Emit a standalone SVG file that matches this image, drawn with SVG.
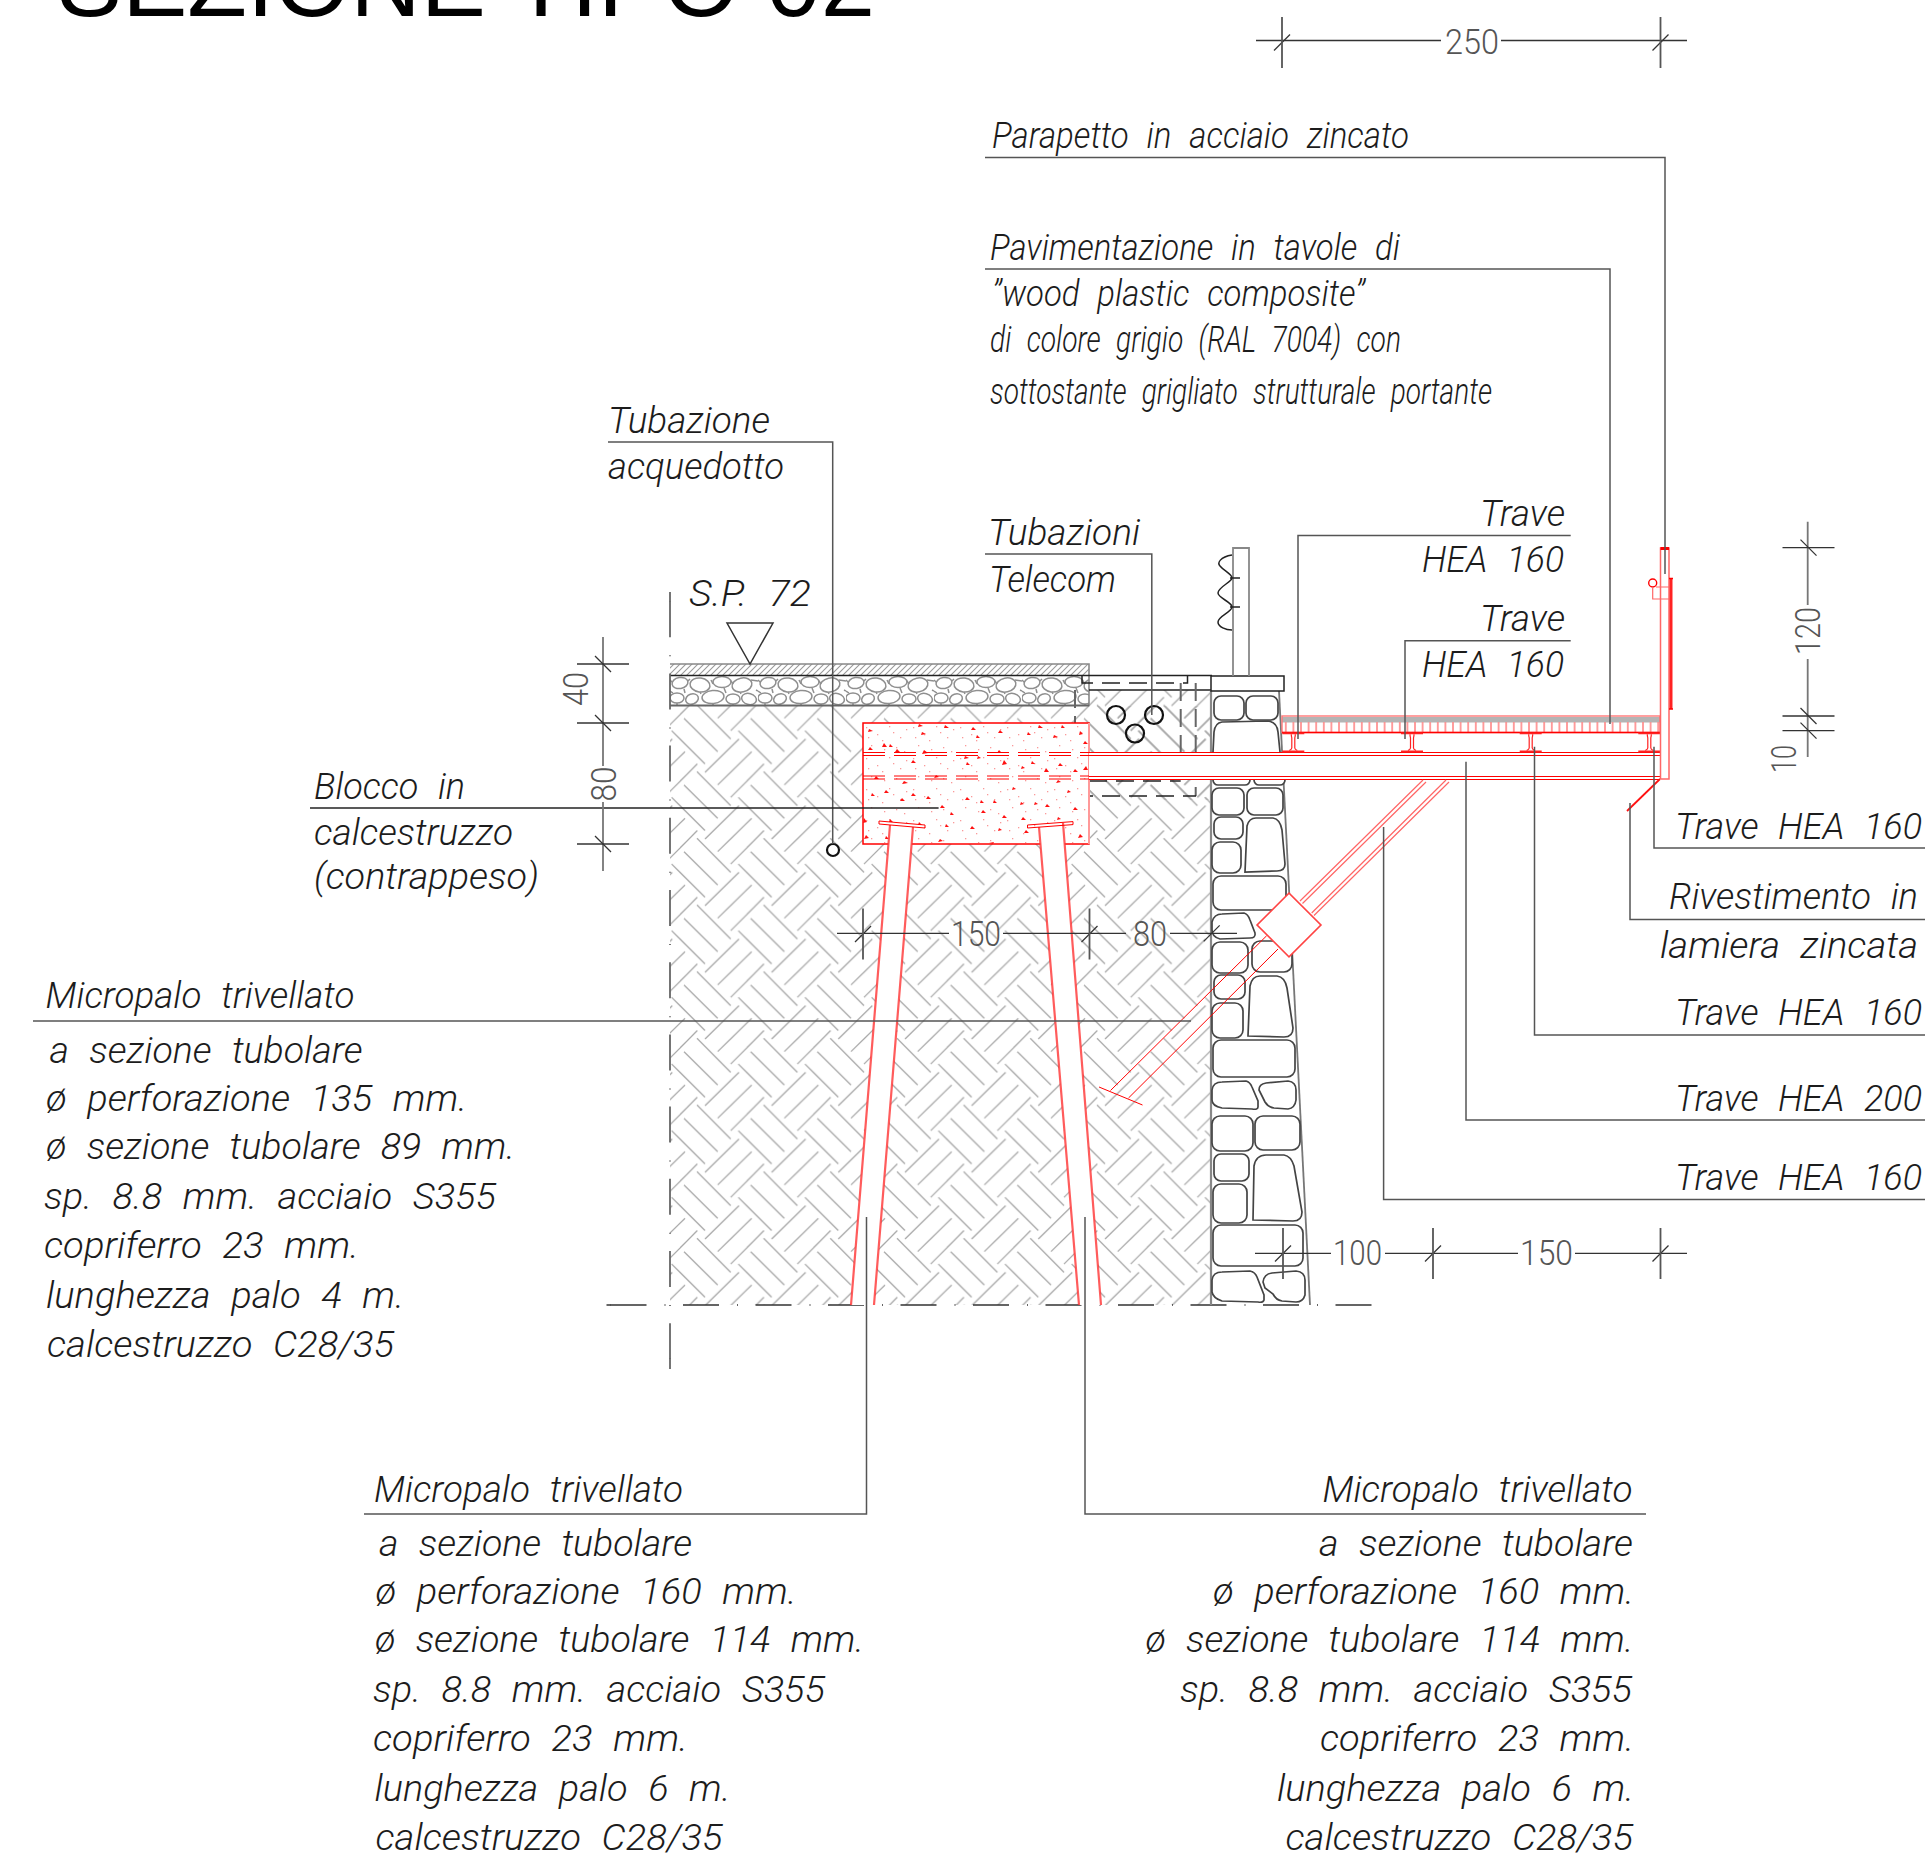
<svg xmlns="http://www.w3.org/2000/svg" width="1925" height="1859" viewBox="0 0 1925 1859">
<style>
text{font-family:Roboto,"Liberation Sans",sans-serif}
.t{font-size:37px;font-weight:300;font-style:italic;fill:#1c1c1c;word-spacing:.3em}
.d{font-size:35px;font-weight:300;fill:#555}
.title{font-family:"Liberation Sans",Arial,sans-serif;font-size:96px;fill:#000}
.l{fill:none;stroke:#555;stroke-width:1.5}
.k{fill:none;stroke:#222;stroke-width:1.5}
.g{fill:none;stroke:#888;stroke-width:1.6}
.dim{fill:none;stroke:#333;stroke-width:1.3}
.r{fill:none;stroke:#f00;stroke-width:1}
.p{fill:none;stroke:#f66;stroke-width:1.2}
.pile{fill:#fff;stroke:none}
.edge{fill:none;stroke:#f33;stroke-width:2.2;stroke-opacity:.8}
.stone{fill:#fff;stroke:#444;stroke-width:1.7}
.dash{fill:none;stroke:#666;stroke-width:2;stroke-dasharray:18 8}
.dk{fill:none;stroke:#222;stroke-width:1.5;stroke-dasharray:18 9}
.axis{fill:none;stroke:#666;stroke-width:1.8;stroke-dasharray:36 18 1 17.2}
.axk{fill:none;stroke:#333;stroke-width:1.5;stroke-dasharray:36 18 1 17.5}
.pipe{fill:none;stroke:#111;stroke-width:2.2}
</style>
<defs>
<pattern id="soil" patternUnits="userSpaceOnUse" width="66.667" height="66.667" patternTransform="translate(680 1040)">
<path d="M4 11.7L37.7 45M17 -1.7L50.7 32.3M17 65L50.7 99M58.3 24L91.7 57.3M-8.4 24L25 57.3M25 65.7L59 32.3M25 -1L59 -34.4M37.7 78.3L71.7 45M37.7 11.6L71.7 -21.7M-29 78.3L5 45M-29 11.6L5 -21.7M50.7 90.7L84 57.3M-16 90.7L17.3 57.3M50.7 24L84 -9.3M-16 24L17.3 -9.3" fill="none" stroke="#a8a8a8" stroke-width="1.3"/>
</pattern>
<pattern id="hatch" patternUnits="userSpaceOnUse" width="6" height="6">
<path d="M-1 7L7 -1M-4 4L4 -4M2 10L10 2" stroke="#999" stroke-width="1.1" fill="none"/>
</pattern>
<pattern id="gravel" patternUnits="userSpaceOnUse" width="88" height="31" patternTransform="translate(670 675)">
<g fill="none" stroke="#8f8f8f" stroke-width="1.5">
<ellipse cx="10" cy="8" rx="8" ry="5.500" transform="rotate(-10 10 8)"/>
<ellipse cx="30" cy="10" rx="10" ry="7" transform="rotate(8 30 10)"/>
<ellipse cx="52" cy="7" rx="9" ry="5.500"/>
<ellipse cx="72" cy="10" rx="10" ry="7" transform="rotate(-12 72 10)"/>
<ellipse cx="7" cy="23" rx="7" ry="5"/>
<ellipse cx="22" cy="24" rx="6.500" ry="5" transform="rotate(-20 22 24)"/>
<ellipse cx="43" cy="22" rx="11" ry="6.500" transform="rotate(-6 43 22)"/>
<ellipse cx="63" cy="24" rx="7" ry="5"/>
<ellipse cx="79" cy="24" rx="7.500" ry="5.500" transform="rotate(15 79 24)"/>
<path d="M18 6L20 4M41 5L43 9M61 6L63 9M81 5L88 6M0 5L2 7M14 14L15 18M54 13L56 18M30 17L31 19M70 17L71 19M7 28L7 31M22 29L22 31M43 28L43 31M63 29L63 31M80 29L80 31M0 16L3 18M86 15L88 16"/>
</g>
</pattern>
<pattern id="spk" patternUnits="userSpaceOnUse" width="47" height="31" patternTransform="translate(863 723)">
<g fill="#fa9a9a">
<rect x="3" y="4" width="1.3" height="1.3"/><rect x="14" y="11" width="1.3" height="1.3"/><rect x="26" y="3" width="1.3" height="1.3"/><rect x="37" y="14" width="1.3" height="1.3"/><rect x="8" y="22" width="1.3" height="1.3"/><rect x="21" y="26" width="1.3" height="1.3"/><rect x="33" y="24" width="1.3" height="1.3"/><rect x="43" y="6" width="1.3" height="1.3"/><rect x="19" y="17" width="1.3" height="1.3"/><rect x="41" y="28" width="1.3" height="1.3"/><rect x="30" y="9" width="1.3" height="1.3"/><rect x="5" y="14" width="1.3" height="1.3"/>
</g>
</pattern>
<pattern id="grate" patternUnits="userSpaceOnUse" width="7.6" height="11" patternTransform="translate(1282 722)">
<rect x="3" y="0" width="1.6" height="11" fill="#f88"/>
</pattern>
<g id="ibeam">
<path d="M-11 0.5H11V2.2H-11ZM-11 18.5H11V20.5H-11Z" fill="#f22"/>
<path d="M-2 2.2C-2 5 -1.500 5 -1.500 6V16C-1.500 17 -3 18 -4 18.5M2 2.2C2 5 1.500 5 1.500 6V16C1.500 17 3 18 4 18.5" fill="none" stroke="#f22" stroke-width="1.2"/>
</g>
<g id="tickh"><path d="M-8 8L8 -8" stroke="#333" stroke-width="1.2" fill="none"/><path d="M0 -25.500V25.500" stroke="#555" stroke-width="1.8" fill="none"/></g>
<g id="tickv"><path d="M-8 -8L8 8" stroke="#333" stroke-width="1.2" fill="none"/><path d="M-26 0H26" stroke="#333" stroke-width="1.3" fill="none"/></g>
</defs>
<rect width="1925" height="1859" fill="#fff"/>

<text id="title" class="title" x="57" y="16" textLength="818" lengthAdjust="spacingAndGlyphs">SEZIONE TIPO 02</text>

<g id="terreno">
<rect x="670" y="706" width="541" height="599" fill="url(#soil)"/>
<rect x="1089" y="690" width="122" height="110" fill="url(#soil)"/>
<rect x="670" y="664" width="419" height="11" fill="url(#hatch)"/>
<rect x="670" y="676" width="419" height="30" fill="#fff"/>
<rect x="670" y="676" width="419" height="30" fill="url(#gravel)"/>
<path class="g" d="M670 664H1089V706"/>
<path class="k" d="M670 675.500H1212M1089 690H1212"/>
<path d="M670 705.500H1089" fill="none" stroke="#666" stroke-width="2"/>
<path class="axis" d="M670 601.200V1359"/>
<path d="M670 592V602M670 1358V1369M606.500 1305H611" fill="none" stroke="#666" stroke-width="1.800"/>
<path class="axk" d="M610.500 1305H1373"/>
</g>

<g id="spalla-pozzetto">
<path class="dk" d="M1082 676V683H1187.500V676"/>
<path class="dash" d="M1180.700 683V781M1195.700 683V796M1075 690V796"/>
<path class="dk" d="M1089 781H1180.700M1075 796H1196"/>
</g>

<g id="blocco">
<rect x="863" y="723" width="226" height="121" fill="#fff" stroke="#f00" stroke-width="1.500"/>
<rect x="864" y="724" width="224" height="119" fill="url(#spk)"/>
<path transform="translate(863 723)" fill="#f11" d="M6 6l4 2-5 1zM56 1l4 2-5 1zM82 2l4 3-5 0zM110 4l3 3-5 0zM137 7l3 3-5 0zM176 2l4 3-5 0zM199 2l3 3-4 0zM59 9l4 2-5 1zM114 12l3 3-4 0zM165 9l3 3-4 0zM191 12l4 2-5 1zM217 8l3 3-4 1zM222 18l3 3-5 0zM7 24l3 3-5 0zM21 20l3 4-5 0zM27 21l3 3-4 0zM34 26l3 3-5 0zM61 27l4 3-6 1zM136 27l3 3-5 0zM102 33l4 2-5 1zM115 33l3 2-4 1zM50 37l3 3-5 0zM141 37l3 4-5 1zM169 38l3 3-4 0zM197 40l3 3-5 0zM183 45l3 4-5 0zM159 43l3 2-4 1zM104 39l3 3-4 0zM212 46l3 3-5 0zM223 43l2 4-5 0zM13 53l3 3-5 0zM41 58l4 2-6 1zM73 52l3 2-5 1zM195 57l3 2-5 1zM23 67l3 3-5 0zM9 70l3 3-4 0zM50 70l3 3-5 0zM65 73l3 3-5 0zM104 74l3 3-5 0zM39 75l3 3-5 0zM118 77l3 3-4 0zM131 77l3 3-4 0zM150 64l3 2-4 1zM205 67l3 2-4 1zM158 79l3 2-4 1zM172 79l3 2-4 1zM184 81l3 3-5 0zM212 84l3 3-5 0zM79 82l3 3-5 0zM120 87l3 3-5 0zM88 89l3 3-4 0zM141 92l3 3-5 0zM160 94l3 3-5 0zM195 94l3 2-4 1zM1 95l3 4-4 1zM27 96l3 3-4 0zM56 99l3 3-4 0zM83 101l3 3-4 0zM109 103l3 3-5 0zM136 105l3 2-4 1zM163 107l3 3-5 0zM191 110l3 2-5 1zM217 111l3 3-5 1zM3 112l3 3-5 1zM23 113l3 3-4 0zM77 116l3 2-5 1zM44 118l-1 3-4-1zM131 119l-1 2-4-1z"/>
<path d="M1089 723V844" fill="none" stroke="#f99" stroke-width="2"/>
<path class="r" d="M863 752.500H1089M863 755.500H1089M863 776H1089M863 779H1089" stroke-dasharray="22 9"/>
</g>

<g id="micropali">
<path class="pile" d="M890 825L851 1305H874L913 827ZM1039 827L1079 1305H1101L1063 823Z"/>
<path class="edge" d="M890 825L851 1305M913 827L874 1305M1039 827L1079 1305M1063 823L1101 1305"/>
<path class="r" d="M879 821L925 825V828L879 824ZM1027.500 825L1073 821.600V824.600L1027.500 828Z"/>
</g>

<g id="muro">
<path d="M1211 690V1305" fill="none" stroke="#888" stroke-width="2.200"/>
<path d="M1279 691L1310 1305" fill="none" stroke="#777" stroke-width="1.800"/>
<rect x="1211" y="676" width="73" height="15" fill="#fff" stroke="#222" stroke-width="1.500"/>
<rect class="stone" x="1214" y="696" width="30" height="24" rx="7"/>
<rect class="stone" x="1246" y="696" width="32" height="24" rx="7"/>
<path class="stone" d="M1213 752L1214 732Q1215 723 1222 722L1268 721Q1277 722 1278 732L1280 752"/>
<rect class="stone" x="1213" y="772" width="37" height="13" rx="5"/>
<rect class="stone" x="1254" y="772" width="31" height="13" rx="5"/>
<rect class="stone" x="1212" y="788" width="32" height="27" rx="7"/>
<rect class="stone" x="1247" y="788" width="36" height="27" rx="7"/>
<rect class="stone" x="1214" y="817" width="29" height="22" rx="7"/>
<path class="stone" d="M1245 872L1247 826Q1249 818 1256 818H1273Q1280 819 1282 830L1285 864Q1285 871 1277 871Z"/>
<rect class="stone" x="1212" y="842" width="29" height="31" rx="8"/>
<rect class="stone" x="1213" y="876" width="73" height="34" rx="8"/>
<path class="stone" d="M1212 922Q1214 914 1222 914L1244 913Q1248 914 1250 920L1255 933Q1256 938 1250 938L1220 939Q1212 937 1212 930Z"/>
<rect class="stone" x="1212" y="942" width="36" height="31" rx="8"/>
<rect class="stone" x="1252" y="941" width="40" height="31" rx="8"/>
<rect class="stone" x="1214" y="975" width="31" height="24" rx="7"/>
<path class="stone" d="M1248 1036L1250 986Q1252 976 1260 976H1277Q1285 977 1287 988L1293 1028Q1293 1037 1284 1037Z"/>
<rect class="stone" x="1212" y="1003" width="31" height="35" rx="8"/>
<rect class="stone" x="1213" y="1040" width="82" height="37" rx="8"/>
<path class="stone" d="M1212 1090Q1213 1082 1222 1082L1246 1081Q1250 1082 1252 1087L1258 1101V1107Q1258 1110 1252 1109L1222 1108Q1212 1106 1212 1100Z"/>
<path class="stone" d="M1259 1090Q1259 1084 1266 1083L1288 1081Q1296 1082 1296 1090V1100Q1295 1108 1288 1109L1274 1108Q1268 1107 1265 1102Z"/>
<rect class="stone" x="1212" y="1116" width="41" height="35" rx="8"/>
<rect class="stone" x="1255" y="1116" width="45" height="34" rx="8"/>
<rect class="stone" x="1214" y="1154" width="35" height="27" rx="7"/>
<path class="stone" d="M1253 1220L1254 1166Q1256 1155 1266 1155H1284Q1291 1156 1294 1166L1302 1212Q1302 1221 1293 1221Z"/>
<rect class="stone" x="1213" y="1184" width="34" height="39" rx="8"/>
<rect class="stone" x="1213" y="1225" width="90" height="41" rx="8"/>
<path class="stone" d="M1212 1280Q1213 1272 1222 1272L1250 1271Q1255 1272 1257 1277L1264 1295V1300Q1263 1303 1258 1302L1222 1301Q1213 1298 1212 1292Z"/>
<path class="stone" d="M1263 1282Q1264 1274 1272 1273L1296 1271Q1305 1272 1305 1280V1295Q1303 1302 1296 1302L1282 1301Q1276 1300 1273 1294L1265 1288Z"/>
</g>

<g id="ringhiera">
<path d="M1233 676V548H1249V676" fill="none" stroke="#888" stroke-width="1.800"/>
<path class="k" d="M1232 555C1220 557 1217 563 1220 566C1224 571 1232 574 1232 578C1232 582 1218 587 1218 593C1218 598 1232 602 1232 607C1232 612 1218 616 1218 622C1218 627 1226 630 1232 630M1230 578H1240M1230 607H1240"/>
</g>

<g id="impalcato">
<rect x="1089" y="752" width="571" height="27" fill="#fff"/>
<path class="r" d="M1089 752.500H1660M1089 755.500H1660M1089 776.500H1660M1089 779.500H1660"/>
<rect x="1282" y="717" width="378" height="5.500" fill="#b4b4b4"/>
<rect x="1282" y="722" width="378" height="10.500" fill="url(#grate)"/>
<rect x="1282" y="716" width="378" height="16.500" fill="none" stroke="#f77" stroke-width="1.400"/>
<path d="M1282 732.500H1660" fill="none" stroke="#f00" stroke-width="1.500"/>
<use href="#ibeam" x="1293.300" y="732"/>
<use href="#ibeam" x="1412" y="732"/>
<use href="#ibeam" x="1530.700" y="732"/>
<use href="#ibeam" x="1649.300" y="732"/>
</g>

<g id="parapetto">
<path d="M1660.500 779V548H1669V779H1660.500" fill="none" stroke="#f66" stroke-width="1.500"/>
<path d="M1660.500 548.500H1669" fill="none" stroke="#f00" stroke-width="3"/>
<path d="M1671 579V709" fill="none" stroke="#f22" stroke-width="3"/>
<path d="M1669 578.500H1673M1669 709H1673" fill="none" stroke="#f00" stroke-width="1.400"/>
<circle cx="1652.700" cy="583" r="4" fill="#fff" stroke="#f00" stroke-width="1.400"/>
<path class="p" d="M1656 587H1669M1652.700 587V599H1669"/>
<path d="M1660 779L1627 811" fill="none" stroke="#f11" stroke-width="1.800"/>
</g>

<g id="puntone">
<path class="p" d="M1300 901L1423 780M1302.500 903.500L1426 782M1311.700 913L1446 780M1314 915.500L1449 782"/>
<path class="r" d="M1266.700 935.700L1110.500 1090.500M1278 949L1128.500 1098M1099 1087L1142.500 1105"/>
<rect x="1266.400" y="902.400" width="45.200" height="45.200" transform="rotate(45 1289 925)" fill="#fff" stroke="#f44" stroke-width="1.600"/>
</g>

<g id="tubi">
<circle class="pipe" cx="1116" cy="715" r="9"/>
<circle class="pipe" cx="1135" cy="733.500" r="9"/>
<circle class="pipe" cx="1154" cy="715" r="9"/>
<circle class="pipe" cx="833" cy="850" r="6"/>
</g>

<g id="quota">
<path d="M727 623H773L750 664Z" fill="none" stroke="#333" stroke-width="1.500"/>
<text class="t" x="689" y="606" textLength="122" lengthAdjust="spacingAndGlyphs">S.P. 72</text>
</g>

<g id="connettori">
<path class="l" d="M985 157.500H1665V574"/>
<path class="l" d="M985 269H1610V724"/>
<path class="l" d="M1570.700 535.500H1298V739"/>
<path class="l" d="M1570.700 640.700H1405V739"/>
<path class="l" d="M985 554H1151.800V715"/>
<path class="l" d="M608 442H832.700V844"/>
<path class="k" d="M310 808H938.600"/>
<path class="l" d="M33 1021H1191"/>
<path class="l" d="M866.500 1217V1514H364"/>
<path class="l" d="M1085 1217V1514H1646"/>
<path class="l" d="M1654 746.700V848H1925"/>
<path class="l" d="M1630 803V919.500H1925"/>
<path class="l" d="M1534.500 746.700V1035H1925"/>
<path class="l" d="M1466 761.700V1120H1925"/>
<path class="l" d="M1383.600 827V1199.500H1925"/>
</g>

<g id="quote">
<g id="q250">
<path class="dim" d="M1256 40.500H1441M1501 40.500H1687"/>
<use href="#tickh" x="1282" y="42.500"/><use href="#tickh" x="1660.500" y="42.500"/>
<text class="d" x="1445" y="54" textLength="54" lengthAdjust="spacingAndGlyphs">250</text>
</g>
<g id="q40-80">
<path d="M603 637V766M603 802V871" fill="none" stroke="#777" stroke-width="1.800"/>
<use href="#tickv" x="603" y="664"/><use href="#tickv" x="603" y="723"/><use href="#tickv" x="603" y="844"/>
<text class="d" transform="translate(588 706) rotate(-90)" textLength="34" lengthAdjust="spacingAndGlyphs">40</text>
<text class="d" transform="translate(615.500 801.500) rotate(-90)" textLength="35" lengthAdjust="spacingAndGlyphs">80</text>
</g>
<g id="q120-10">
<path d="M1807.700 521.700V605M1807.700 659V757" fill="none" stroke="#777" stroke-width="1.800"/>
<use href="#tickv" x="1808.500" y="547.700"/><use href="#tickv" x="1808.500" y="716"/><use href="#tickv" x="1808.500" y="730.700"/>
<text class="d" transform="translate(1820 655) rotate(-90)" textLength="48" lengthAdjust="spacingAndGlyphs">120</text>
<text class="d" transform="translate(1796 773) rotate(-90)" textLength="28" lengthAdjust="spacingAndGlyphs">10</text>
</g>
<g id="q150-80">
<path class="dim" d="M837 933.300H949M1003 933.300H1126M1170 933.300H1237"/>
<use href="#tickh" x="863" y="934"/><use href="#tickh" x="1089.500" y="934"/>
<path d="M1203.700 941.300L1219.700 925.300" stroke="#333" stroke-width="1.200" fill="none"/>
<text class="d" x="951" y="945.500" textLength="50" lengthAdjust="spacingAndGlyphs">150</text>
<text class="d" x="1133" y="945.500" textLength="34" lengthAdjust="spacingAndGlyphs">80</text>
</g>
<g id="q100-150">
<path class="dim" d="M1255 1253.300H1331M1385 1253.300H1518M1575 1253.300H1687"/>
<use href="#tickh" x="1283" y="1253.500"/><use href="#tickh" x="1433" y="1253.500"/><use href="#tickh" x="1660.500" y="1253.500"/>
<text class="d" x="1333" y="1265" textLength="49" lengthAdjust="spacingAndGlyphs">100</text>
<text class="d" x="1520" y="1265" textLength="53" lengthAdjust="spacingAndGlyphs">150</text>
</g>
</g>

<g id="etichetta-parapetto"><text class="t" x="992" y="147.500" textLength="417" lengthAdjust="spacingAndGlyphs">Parapetto in acciaio zincato</text></g>
<g id="etichetta-pavimentazione">
<text class="t" x="990" y="260" textLength="410" lengthAdjust="spacingAndGlyphs">Pavimentazione in tavole di</text>
<text class="t" x="992" y="306" textLength="373" lengthAdjust="spacingAndGlyphs">”wood plastic composite”</text>
<text class="t" x="990" y="351.500" textLength="411" lengthAdjust="spacingAndGlyphs">di colore grigio (RAL 7004) con</text>
<text class="t" x="990" y="404" textLength="502" lengthAdjust="spacingAndGlyphs">sottostante grigliato strutturale portante</text>
</g>
<g id="etichetta-acquedotto">
<text class="t" x="608" y="432.500" textLength="162" lengthAdjust="spacingAndGlyphs">Tubazione</text>
<text class="t" x="608" y="479" textLength="176" lengthAdjust="spacingAndGlyphs">acquedotto</text>
</g>
<g id="etichetta-telecom">
<text class="t" x="988" y="545" textLength="152" lengthAdjust="spacingAndGlyphs">Tubazioni</text>
<text class="t" x="989" y="592" textLength="127" lengthAdjust="spacingAndGlyphs">Telecom</text>
</g>
<g id="etichetta-trave-1">
<text class="t" x="1480" y="525.500" textLength="85" lengthAdjust="spacingAndGlyphs">Trave</text>
<text class="t" x="1422" y="571.500" textLength="142" lengthAdjust="spacingAndGlyphs">HEA 160</text>
</g>
<g id="etichetta-trave-2">
<text class="t" x="1480" y="630.500" textLength="85" lengthAdjust="spacingAndGlyphs">Trave</text>
<text class="t" x="1422" y="676.500" textLength="142" lengthAdjust="spacingAndGlyphs">HEA 160</text>
</g>
<g id="etichetta-blocco">
<text class="t" x="314" y="798.500" textLength="151" lengthAdjust="spacingAndGlyphs">Blocco in</text>
<text class="t" x="314" y="845" textLength="199" lengthAdjust="spacingAndGlyphs">calcestruzzo</text>
<text class="t" x="314" y="889" textLength="225" lengthAdjust="spacingAndGlyphs">(contrappeso)</text>
</g>
<g id="etichette-destra">
<text class="t" x="1675" y="839" textLength="247" lengthAdjust="spacingAndGlyphs">Trave HEA 160</text>
<text class="t" x="1669" y="909" textLength="249" lengthAdjust="spacingAndGlyphs">Rivestimento in</text>
<text class="t" x="1660" y="958" textLength="258" lengthAdjust="spacingAndGlyphs">lamiera zincata</text>
<text class="t" x="1675" y="1025" textLength="247" lengthAdjust="spacingAndGlyphs">Trave HEA 160</text>
<text class="t" x="1675" y="1111" textLength="247" lengthAdjust="spacingAndGlyphs">Trave HEA 200</text>
<text class="t" x="1675" y="1190" textLength="247" lengthAdjust="spacingAndGlyphs">Trave HEA 160</text>
</g>
<g id="etichetta-micropalo-4m">
<text class="t" x="45.500" y="1008" textLength="309" lengthAdjust="spacingAndGlyphs">Micropalo trivellato</text>
<text class="t" x="49.500" y="1062.500" textLength="313" lengthAdjust="spacingAndGlyphs">a sezione tubolare</text>
<text class="t" x="46" y="1111" textLength="421" lengthAdjust="spacingAndGlyphs">ø perforazione 135 mm.</text>
<text class="t" x="46" y="1159" textLength="469" lengthAdjust="spacingAndGlyphs">ø sezione tubolare 89 mm.</text>
<text class="t" x="44" y="1208.500" textLength="452" lengthAdjust="spacingAndGlyphs">sp. 8.8 mm. acciaio S355</text>
<text class="t" x="44" y="1257.500" textLength="315" lengthAdjust="spacingAndGlyphs">copriferro 23 mm.</text>
<text class="t" x="46" y="1307.500" textLength="358" lengthAdjust="spacingAndGlyphs">lunghezza palo 4 m.</text>
<text class="t" x="47" y="1356.500" textLength="347" lengthAdjust="spacingAndGlyphs">calcestruzzo C28/35</text>
</g>
<g id="etichetta-micropalo-sx">
<text class="t" x="374" y="1501.500" textLength="309" lengthAdjust="spacingAndGlyphs">Micropalo trivellato</text>
<text class="t" x="379" y="1555.500" textLength="313" lengthAdjust="spacingAndGlyphs">a sezione tubolare</text>
<text class="t" x="375.500" y="1603.500" textLength="421" lengthAdjust="spacingAndGlyphs">ø perforazione 160 mm.</text>
<text class="t" x="375" y="1651.500" textLength="489" lengthAdjust="spacingAndGlyphs">ø sezione tubolare 114 mm.</text>
<text class="t" x="373" y="1702" textLength="452" lengthAdjust="spacingAndGlyphs">sp. 8.8 mm. acciaio S355</text>
<text class="t" x="373" y="1751" textLength="315" lengthAdjust="spacingAndGlyphs">copriferro 23 mm.</text>
<text class="t" x="374.500" y="1801" textLength="356" lengthAdjust="spacingAndGlyphs">lunghezza palo 6 m.</text>
<text class="t" x="375.500" y="1850" textLength="347" lengthAdjust="spacingAndGlyphs">calcestruzzo C28/35</text>
</g>
<g id="etichetta-micropalo-dx">
<text class="t" x="1322.500" y="1501.500" textLength="310" lengthAdjust="spacingAndGlyphs">Micropalo trivellato</text>
<text class="t" x="1319" y="1555.500" textLength="314" lengthAdjust="spacingAndGlyphs">a sezione tubolare</text>
<text class="t" x="1213" y="1603.500" textLength="421" lengthAdjust="spacingAndGlyphs">ø perforazione 160 mm.</text>
<text class="t" x="1145.500" y="1651.500" textLength="488" lengthAdjust="spacingAndGlyphs">ø sezione tubolare 114 mm.</text>
<text class="t" x="1180" y="1702" textLength="452" lengthAdjust="spacingAndGlyphs">sp. 8.8 mm. acciaio S355</text>
<text class="t" x="1320" y="1751" textLength="314" lengthAdjust="spacingAndGlyphs">copriferro 23 mm.</text>
<text class="t" x="1277" y="1801" textLength="357" lengthAdjust="spacingAndGlyphs">lunghezza palo 6 m.</text>
<text class="t" x="1285.500" y="1850" textLength="347.500" lengthAdjust="spacingAndGlyphs">calcestruzzo C28/35</text>
</g>
</svg>
